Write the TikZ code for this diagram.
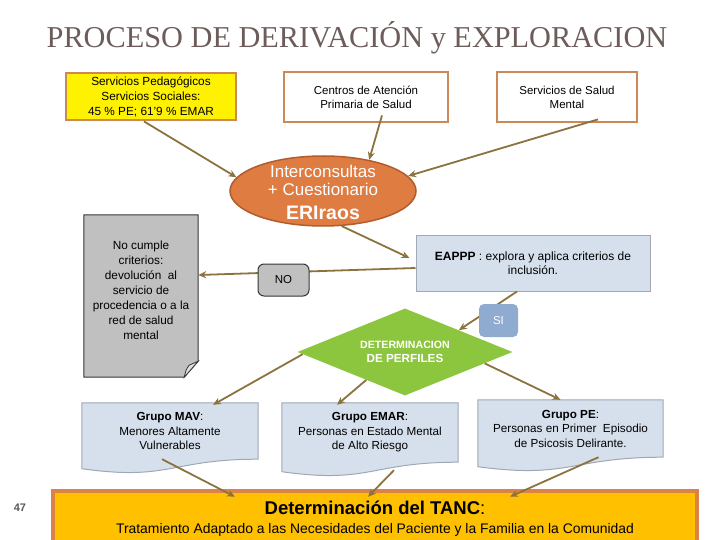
\documentclass[tikz,border=0pt]{standalone}
\usepackage{fontspec}
\setmainfont{Liberation Sans}
\newfontfamily\titlefont{Liberation Serif}
\usetikzlibrary{shapes.geometric,arrows.meta,calc,backgrounds}
\definecolor{arr}{RGB}{139,114,62}
\definecolor{tanb}{RGB}{204,136,85}
\definecolor{ellf}{RGB}{222,124,66}
\definecolor{elld}{RGB}{178,92,45}
\definecolor{bluef}{RGB}{214,224,236}
\definecolor{blued}{RGB}{160,168,182}
\definecolor{greenf}{RGB}{140,198,63}
\definecolor{sif}{RGB}{143,172,208}
\definecolor{grayf}{RGB}{192,192,192}
\definecolor{darkb}{RGB}{55,55,55}
\definecolor{goldf}{RGB}{255,192,0}
\definecolor{goldb}{RGB}{221,130,70}
\definecolor{titlec}{RGB}{108,92,90}
\newcommand{\fs}[2]{\fontsize{#1}{#2}\selectfont}
\newcommand{\wavebox}[1]{%
  \path[fill=bluef,draw=blued,line width=1pt] (#1.north west) -- (#1.north east) -- (#1.south east)
    .. controls (#1.south) and ([yshift=-22pt]#1.south) .. ([yshift=-9.5pt]#1.south west) -- cycle;}
\begin{document}
\begin{tikzpicture}[x=1pt,y=-1pt,
  topbox/.style={draw=tanb,line width=2.8pt,align=center,inner sep=0pt},
  conn/.style={draw=arr,line width=1.8pt,-{Stealth[length=8pt,width=7pt]}},
  grp/.style={align=center,font=\fs{11.7}{14.5},inner sep=0pt}]
\useasboundingbox (0,0) rectangle (720,540);

% title
\node[font=\titlefont\fs{30.3}{34},text=titlec,anchor=base] (title) at (357,48) {PROCESO DE DERIVACIÓN y EXPLORACION};

% top boxes
\node[topbox,fill=yellow,minimum width=170pt,minimum height=47pt,font=\fs{11.8}{15}] (b1) at (151,96.5)
  {Servicios Pedagógicos\\Servicios Sociales:\\45 \% PE; 61'9 \% EMAR};
\node[topbox,fill=white,minimum width=164pt,minimum height=50pt,font=\fs{11.5}{14}] (b2) at (366,97)
  {Centros de Atención\\Primaria de Salud};
\node[topbox,fill=white,minimum width=140pt,minimum height=50pt,font=\fs{11.5}{14}] (b3) at (567,97)
  {Servicios de Salud\\Mental};

% ellipse
\node[ellipse,fill=ellf,draw=elld,line width=1.5pt,minimum width=186pt,minimum height=70pt,inner sep=0pt] (ell) at (323,191) {};
\node[align=center,text=white,inner sep=0pt,font=\fs{17}{18}] (elltext) at (323,192)
  {Interconsultas\\+ Cuestionario\\[6pt]{\fs{19.5}{20}\bfseries ERIraos}};

% EAPPP box
\node[fill=bluef,draw=blued,line width=1pt,minimum width=234pt,minimum height=56pt,align=center,font=\fs{12}{14}] (eappp) at (533,263)
  {\textbf{EAPPP} : explora y aplica criterios de\\inclusión.};

% document (no cumple)
\node[align=center,minimum width=114pt,minimum height=150pt,inner sep=0pt,font=\fs{11.8}{15}] (doc) at (141,290)
  {No cumple\\criterios:\\devolución~ al\\servicio de\\procedencia o a la\\red de salud\\mental};

% diamond
\node[diamond,fill=greenf,minimum width=215pt,minimum height=87pt,shape aspect=2.5,inner sep=0pt,align=center,text=white,font=\bfseries\fs{11.7}{14}] (dia) at (405,352)
  {{\fs{10.6}{14}DETERMINACION}\\DE PERFILES};

% groups
\node[grp,minimum width=176pt,minimum height=56pt] (mav) at (170,431)
  {\textbf{Grupo MAV}:\\Menores Altamente\\Vulnerables};
\node[grp,minimum width=176pt,minimum height=59pt] (emar) at (370,432.5)
  {\textbf{Grupo EMAR}:\\Personas en Estado Mental\\de Alto Riesgo};
\node[grp,minimum width=185pt,minimum height=57pt] (pe) at (570.5,428.5)
  {\textbf{Grupo PE}:\\Personas en Primer~ Episodio\\de Psicosis Delirante.};

% TANC
\node[fill=goldf,draw=goldb,line width=4.5pt,minimum width=644pt,minimum height=55pt,align=center,inner sep=0pt,font=\fs{13.9}{16}] (tanc) at (375,518.5)
  {{\fs{18.5}{20}\textbf{Determinación del TANC}:}\\[3pt]Tratamiento Adaptado a las Necesidades del Paciente y la Familia en la Comunidad};

\node[font=\bfseries\fs{11}{13},text=black!65] (pg) at (20,508) {47};

% background shapes
\begin{scope}[on background layer]
  \wavebox{mav}
  \wavebox{emar}
  \wavebox{pe}
  \path[fill=grayf,draw=darkb,line width=1pt] (doc.north west) -- (doc.north east) -- ([yshift=4pt]doc.south east)
     -- ([xshift=-14pt,yshift=-12pt]doc.south east) -- ([yshift=-12pt]doc.south west) -- cycle;
  \path[fill=black!12,draw=darkb,line width=0.8pt] ([xshift=-14pt,yshift=-12pt]doc.south east)
     .. controls ([xshift=-12pt,yshift=-4pt]doc.south east) .. ([xshift=-9pt,yshift=0pt]doc.south east)
     -- ([yshift=4pt]doc.south east) -- cycle;
\end{scope}

% connectors
\draw[conn] ([xshift=-7pt]b1.south) -- (ell.171);
\draw[conn] ([xshift=16pt,yshift=8pt]b2.south) -- (ell.34);
\draw[conn] ([xshift=31pt,yshift=4pt]b3.south) -- (ell.10);
\draw[conn] (ell.-62) -- ([xshift=-6pt,yshift=5pt]eappp.west);
\draw[conn] ([yshift=-5pt]eappp.west) -- ([yshift=15pt]doc.east);
\draw[conn] ([xshift=-16pt]eappp.south) -- (dia.north east);
\draw[conn] ($(dia.west)!0.05!(dia.south)$) -- ([xshift=43pt,yshift=-2pt]mav.north);
\draw[conn] ($(dia.west)!0.64!(dia.south)$) -- ([xshift=-33pt,yshift=-2pt]emar.north);
\draw[conn] ($(dia.east)!0.26!(dia.south)$) -- ([xshift=-10pt]pe.north);
\draw[conn] ([xshift=-8pt]mav.south) -- ([xshift=-140pt,yshift=-8pt]tanc.north);
\draw[conn] ([xshift=24pt,yshift=-8pt]emar.south) -- ([xshift=-7pt,yshift=-8pt]tanc.north);
\draw[conn] ([xshift=28pt]pe.south) -- ([xshift=135pt,yshift=-8pt]tanc.north);

% labels on top of connectors
\node[fill=grayf,draw=darkb,line width=1pt,rounded corners=6pt,minimum width=51pt,minimum height=32pt,font=\fs{11.5}{13}] (no) at (283.5,280) {NO};
\node[fill=sif,rounded corners=5pt,minimum width=39pt,minimum height=33pt,text=white,font=\fs{11.5}{13}] (si) at (498.5,320.5) {SI};
\end{tikzpicture}
\end{document}
